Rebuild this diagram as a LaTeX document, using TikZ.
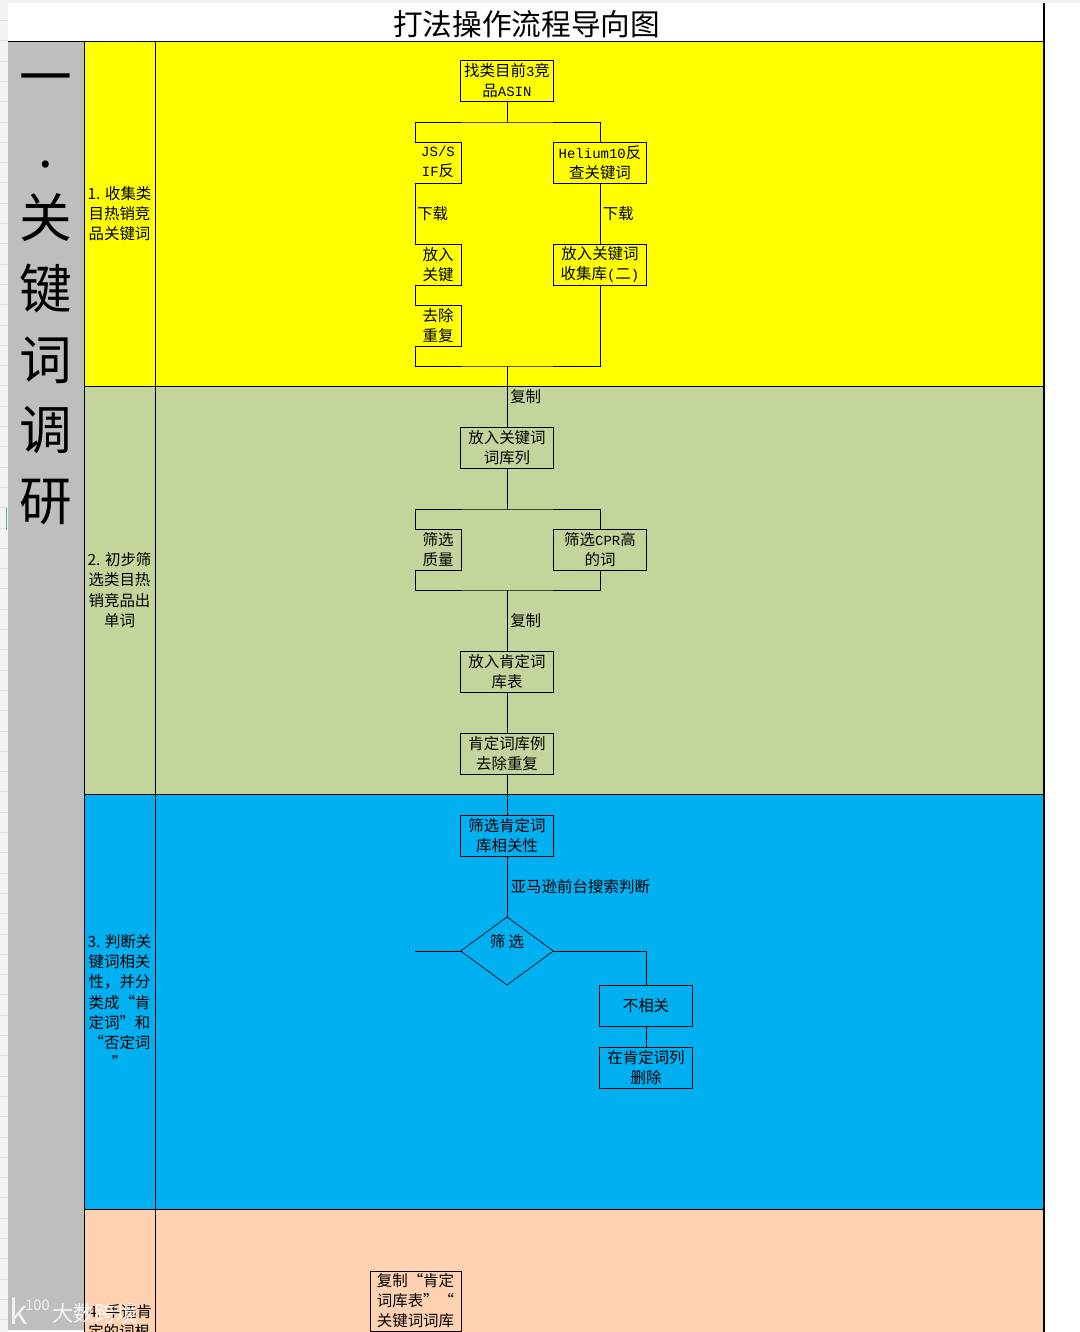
\documentclass[tikz,border=0pt]{standalone}
\usepackage{fontspec}
\setmainfont{Noto Sans CJK SC}
\newfontfamily\latinmono{Liberation Mono}
\usepackage{xcolor}
\usetikzlibrary{positioning,shapes.geometric}
\definecolor{bandyellow}{HTML}{FFFF00}
\definecolor{bandgreen}{HTML}{C4D59B}
\definecolor{bandblue}{HTML}{00B0F0}
\definecolor{bandpeach}{HTML}{FED2B0}
\definecolor{bandgray}{HTML}{BEBEBE}
\definecolor{gutter}{HTML}{F3F3F3}
\definecolor{gridline}{HTML}{E0E0E0}
\definecolor{cursormark}{HTML}{4FB58F}
\newcommand{\lat}[1]{{\latinmono\fontsize{10.5}{15}\selectfont #1}}

\begin{document}
\begin{tikzpicture}[
  x=0.75pt, y=-0.75pt,
  node distance=30.75pt and 0pt,
  band/.style={draw, line width=0.5pt, anchor=north west, inner sep=0pt, outer sep=0pt, align=center,
               font=\fontsize{11.6}{15.2}\selectfont},
  box/.style={draw, line width=0.5pt, align=center, inner sep=0pt, outer sep=0pt, minimum width=69.5pt,
              minimum height=30.75pt, font=\fontsize{11.6}{15}\selectfont},
  narrow/.style={box, draw=none, minimum width=34.5pt},
  lbl/.style={inner sep=0pt, anchor=west, font=\fontsize{11.6}{15}\selectfont},
  wire/.style={line width=0.5pt}
]
\useasboundingbox (0,0) rectangle (1080,1332);
\clip (0,0) rectangle (1080,1332);

% spreadsheet behind the sheet
\fill[white] (0,0) rectangle (1080,1332);
\fill[gutter] (0,0) rectangle (8,1332);
\fill[gutter] (0,0) rectangle (1080,3);
\foreach \n in {1,...,65}
  \draw[gridline, line width=0.4pt] (0,20.3*\n) -- (8,20.3*\n);
\draw[cursormark, line width=1.2pt] (6.5,508) -- (6.5,530);

% title and bands
\node[band, draw=none, fill=white, minimum width=777pt, minimum height=27.75pt] (title) at (8,3) {};
\node[inner sep=0pt, font=\fontsize{22.25}{24}\selectfont] (titletext) at (526.5,24.5) {打法操作流程导向图};
\node[band, draw=none, fill=bandgray, minimum width=57pt, minimum height=966.75pt] (side) at (8,41) {};
\node[band, fill=bandyellow, minimum width=53.25pt, minimum height=258.75pt] (lab1) at (84,41) {1. 收集类\\目热销竞\\品关键词};
\node[band, fill=bandgreen, minimum width=53.25pt, minimum height=306pt] (lab2) at (84,386) {2. 初步筛\\选类目热\\销竞品出\\单词};
\node[band, fill=bandblue, minimum width=53.25pt, minimum height=311.25pt] (lab3) at (84,794) {3. 判断关\\键词相关\\性，并分\\类成“肯\\定词”和\\“否定词\\”};
\node[band, fill=bandpeach, minimum width=53.25pt, minimum height=120pt] (lab4) at (84,1209) {};
\node[band, fill=bandyellow, minimum width=666.75pt, minimum height=258.75pt] (row1) at (155,41) {};
\node[band, fill=bandgreen, minimum width=666.75pt, minimum height=306pt] (row2) at (155,386) {};
\node[band, fill=bandblue, minimum width=666.75pt, minimum height=311.25pt] (row3) at (155,794) {};
\node[band, fill=bandpeach, minimum width=666.75pt, minimum height=120pt] (row4) at (155,1209) {};
\coordinate (ruletop) at (1044,3);
\draw[line width=0.8pt] (ruletop) -- (row4.south east);
\draw[wire] (side.north west) -- (row1.north east);

\node[inner sep=0pt, align=center, font=\fontsize{39.5}{53}\selectfont] (sidetext) at (46,299.5) {一\\.\\关\\键\\词\\调\\研};
\node[inner sep=0pt, anchor=west, font=\fontsize{11.6}{15}\selectfont] (lab4text) at (88,1312) {4. 手选肯};
\node[inner sep=0pt, anchor=west, font=\fontsize{11.6}{15}\selectfont] (lab4more) at (88,1332) {定的词根};

% flow, first band
\node[box] (asin) at (507,81) {找类目前\lat{3}竞\\品\lat{ASIN}};
\node[narrow] (jssif) at (438,162.5) {\lat{JS/S}\\\lat{IF}反};
\node[box] (helium) at (600,162.5) {\lat{Helium10}反\\查关键词};
\node[narrow, below=45.75pt of jssif] (putkey) {放入\\关键};
\node[box, below=45.75pt of helium] (putstore) {放入关键词\\收集库\lat{(}二\lat{)}};
\node[narrow, below=15pt of putkey] (dedup) {去除\\重复};
\coordinate (split1) at (507,122);
\coordinate (merge1) at (507,366);
\draw[wire] (asin) -- (split1);
\draw[wire] (jssif.north west) |- (split1) -| (helium.north);
\draw[wire] (jssif.south west) -- (putkey.north west);
\draw[wire] (helium) -- (putstore);
\draw[wire] (putkey.south west) -- (dedup.north west);
\draw[wire] (dedup.south west) |- (merge1) -| (putstore.south);
\node[lbl] (dl1) at (417,214) {下载};
\node[lbl] (dl2) at (602.5,214) {下载};

% flow, second band
\node[box] (wordcol) at (507,448) {放入关键词\\词库列};
\node[narrow] (quality) at (438,549.5) {筛选\\质量};
\node[box] (cpr) at (600,549.5) {筛选\lat{CPR}高\\的词};
\coordinate (split2) at (507,509);
\coordinate (merge2) at (507,590);
\draw[wire] (merge1) -- (wordcol);
\node[lbl] (copy1) at (510,397) {复制};
\draw[wire] (wordcol) -- (split2);
\draw[wire] (quality.north west) |- (split2) -| (cpr.north);
\draw[wire] (quality.south west) |- (merge2) -| (cpr.south);
\node[box] (posstore) at (507,672) {放入肯定词\\库表};
\node[box, below=of posstore] (posdedup) {肯定词库例\\去除重复};
\draw[wire] (merge2) -- (posstore);
\node[lbl] (copy2) at (510,621) {复制};
\draw[wire] (posstore) -- (posdedup);

% open on the left, the cell edge cuts them off
\foreach \n in {jssif,putkey,dedup,quality}
  \draw[wire] (\n.north west) -- (\n.north east) -- (\n.south east) -- (\n.south west);

% flow, third band
\node[box, below=of posdedup] (relevance) {筛选肯定词\\库相关性};
\node[diamond, draw, line width=0.5pt, aspect=1.35, inner sep=0pt, outer sep=0pt, minimum width=69.5pt,
      minimum height=51pt] (sieve) at (507,951) {};
\node[inner sep=0pt, font=\fontsize{11.6}{15}\selectfont] (sievetext) at (507,942) {筛 选};
\node[box] (unrelated) at (646,1005.5) {不相关};
\node[box, below=15.75pt of unrelated] (remove) {在肯定词列\\删除};
\coordinate (sieveleft) at (415,951);
\draw[wire] (posdedup) -- (relevance);
\draw[wire] (relevance) -- (sieve);
\node[lbl] (amazon) at (510.5,887) {亚马逊前台搜索判断};
\draw[wire] (sieve.west) -- (sieveleft);
\draw[wire] (sieve.east) -| (unrelated.north);
\draw[wire] (unrelated) -- (remove);

% flow, fourth band
\node[box, minimum width=68.25pt, minimum height=45pt, anchor=north west] (copyall) at (370,1271) {复制“肯定\\词库表”“\\关键词词库};

% mark over the corner
\node[inner sep=0pt, anchor=west, text=white, opacity=0.85, font=\fontsize{16}{18}\selectfont] (mark) at (52,1313) {大数跨境};
\node[inner sep=0pt, anchor=west, text=white, opacity=0.8, font=\fontsize{25}{26}\selectfont] (markk) at (9,1311) {k};
\node[inner sep=0pt, anchor=west, text=white, opacity=0.8, font=\fontsize{11}{12}\selectfont] (marknum) at (25,1305) {100};
\end{tikzpicture}
\end{document}
